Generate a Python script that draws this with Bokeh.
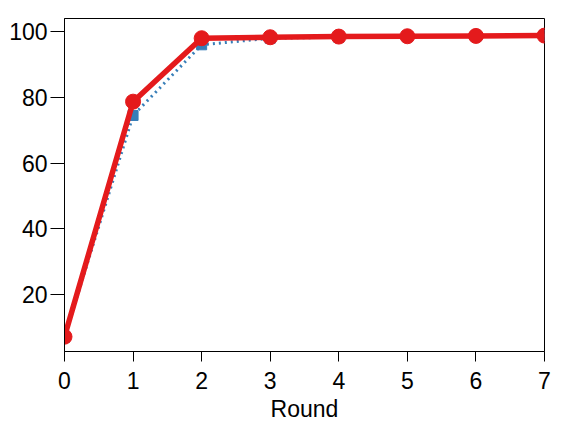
from bokeh.plotting import figure
from bokeh.embed import file_html
from bokeh.resources import INLINE
from bokeh.models import FixedTicker, Range1d

rounds = [0, 1, 2, 3, 4, 5, 6, 7]
blue_vals = [7.0, 74.5, 96.0, 98.0, 98.3, 98.5, 98.6, 98.8]
red_vals = [7.2, 78.7, 98.0, 98.3, 98.5, 98.6, 98.7, 98.8]
x_ticks = [0, 1, 2, 3, 4, 5, 6, 7]
y_ticks = [20, 40, 60, 80, 100]

p = figure(width=560, height=424, output_backend="svg", toolbar_location=None,
           x_range=Range1d(0, 7), y_range=Range1d(2.7, 104),
           min_border_left=64, min_border_right=16, min_border_top=18, min_border_bottom=73)

p.line(rounds, blue_vals, color="#377eb8", line_width=3, line_dash="dotted")
p.scatter(rounds, blue_vals, marker="square", size=10, color="#377eb8")
p.line(rounds, red_vals, color="#e41a1c", line_width=5.5)
p.scatter(rounds, red_vals, marker="circle", size=15, color="#e41a1c")

p.xgrid.visible = False
p.ygrid.visible = False
p.outline_line_color = "black"
p.outline_line_width = 1
p.outline_line_alpha = 1

for ax in (p.xaxis, p.yaxis):
    ax.major_label_text_font = "Liberation Sans"
    ax.major_label_text_font_size = "23px"
    ax.major_label_text_color = "black"
    ax.axis_line_color = "black"
    ax.major_tick_line_color = "black"
    ax.major_tick_in = 0
    ax.minor_tick_line_color = None

p.xaxis.major_tick_out = 10
p.yaxis.major_tick_out = 14
p.xaxis.ticker = FixedTicker(ticks=x_ticks)
p.yaxis.ticker = FixedTicker(ticks=y_ticks)
p.xaxis.axis_label = "Round"
p.xaxis.axis_label_text_font = "Liberation Sans"
p.xaxis.axis_label_text_font_size = "23px"
p.xaxis.axis_label_text_font_style = "normal"
p.xaxis.axis_label_text_color = "black"
p.xaxis.axis_label_standoff = 4
p.xaxis.major_label_standoff = 10
p.yaxis.major_label_standoff = 3

open("out.html", "w").write(file_html(p, INLINE))
